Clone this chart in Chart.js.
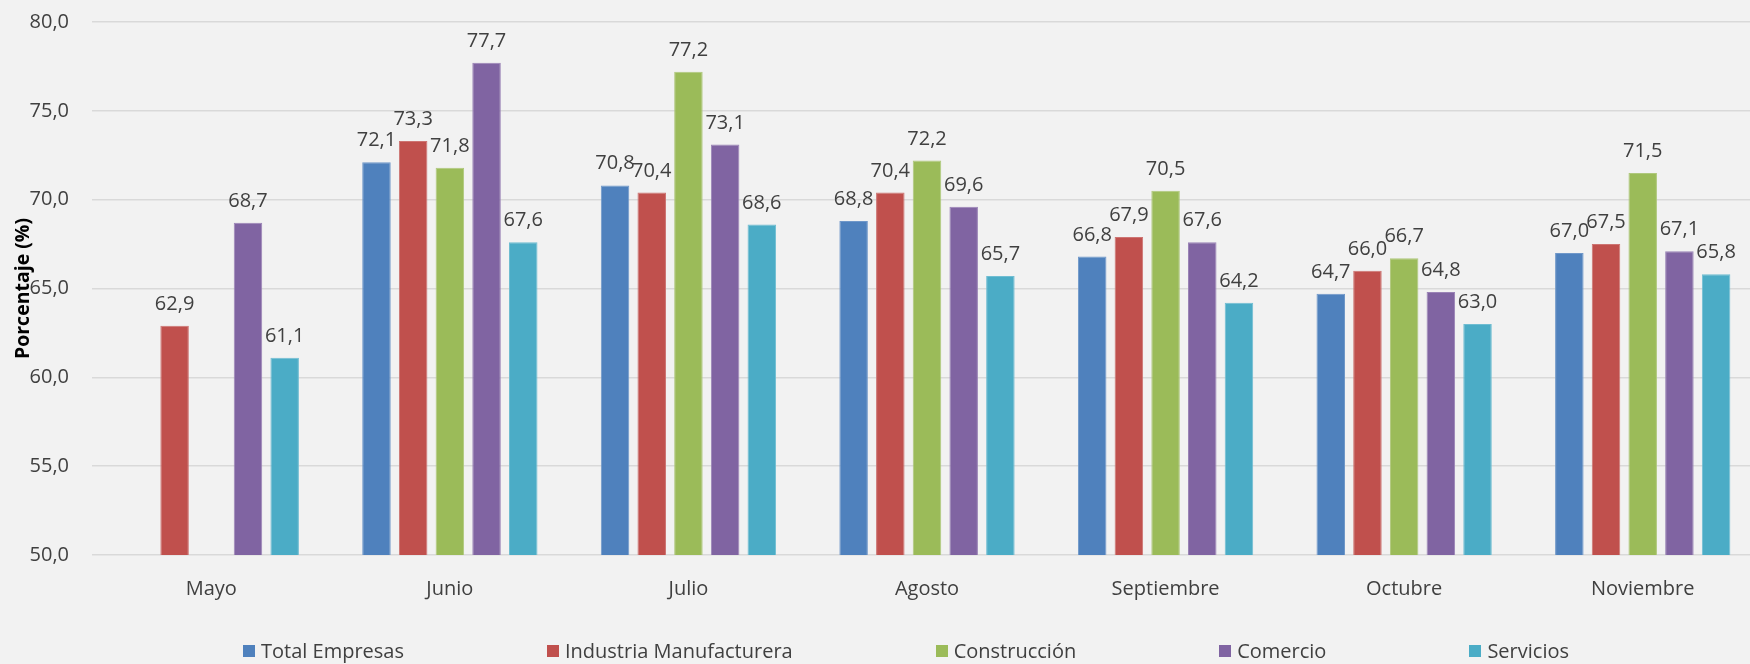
<!DOCTYPE html>
<html>
<head>
<meta charset="utf-8">
<script src="https://cdn.jsdelivr.net/npm/chart.js@4/dist/chart.umd.min.js"></script>
<style>
  html, body { margin: 0; padding: 0; background: #f2f2f2; overflow: hidden; width: 1750px; height: 664px; }
  #wrap { position: relative; width: 1812px; height: 664px; }
  #legend { position: absolute; left: 0; top: 637px; width: 1812px; display: flex; justify-content: center; gap: 143px;
            font-family: 'Open Sans', sans-serif; font-size: 20px; color: #404040; line-height: 28px; }
  .item { display: flex; align-items: center; white-space: nowrap; }
  .sw { width: 12px; height: 12px; margin-right: 6px; }
</style>
</head>
<body>
<div id="wrap">
  <canvas id="c" width="1812" height="664"></canvas>
  <div id="legend"></div>
</div>
<script>
const categories = ['Mayo', 'Junio', 'Julio', 'Agosto', 'Septiembre', 'Octubre', 'Noviembre'];
const seriesNames = ['Total Empresas', 'Industria Manufacturera', 'Construcción', 'Comercio', 'Servicios'];
const totalEmpresas = [null, 72.1, 70.8, 68.8, 66.8, 64.7, 67.0];
const industriaManufacturera = [62.9, 73.3, 70.4, 70.4, 67.9, 66.0, 67.5];
const construccion = [null, 71.8, 77.2, 72.2, 70.5, 66.7, 71.5];
const comercio = [68.7, 77.7, 73.1, 69.6, 67.6, 64.8, 67.1];
const servicios = [61.1, 67.6, 68.6, 65.7, 64.2, 63.0, 65.8];
const colors = ['#4f81bd', '#c0504d', '#9bbb59', '#8064a2', '#4bacc6'];
const borders = ['#6f97c9', '#cd7472', '#afc87c', '#9a83b6', '#6fbdd2'];
const yTicks = { min: 50, max: 80, step: 5 };

const seriesValues = [totalEmpresas, industriaManufacturera, construccion, comercio, servicios];
const fmt = v => v.toFixed(1).replace('.', ',');
const TEXT = '#404040';
const FONT = "'Open Sans', sans-serif";

const valueLabels = {
  id: 'valueLabels',
  afterDatasetsDraw(chart) {
    const ctx = chart.ctx;
    ctx.save();
    ctx.font = '20px ' + FONT;
    ctx.fillStyle = TEXT;
    ctx.textAlign = 'center';
    ctx.textBaseline = 'alphabetic';
    chart.data.datasets.forEach((ds, i) => {
      const meta = chart.getDatasetMeta(i);
      meta.data.forEach((bar, j) => {
        const v = ds.data[j];
        if (v == null) return;
        ctx.fillText(fmt(v), bar.x, bar.y - 16);
      });
    });
    ctx.restore();
  }
};

new Chart(document.getElementById('c'), {
  type: 'bar',
  data: {
    labels: categories,
    datasets: seriesNames.map((n, i) => ({
      label: n,
      data: seriesValues[i],
      backgroundColor: colors[i],
      borderColor: borders[i],
      borderWidth: 1,
      categoryPercentage: 0.769,
      barPercentage: 0.777,
      skipNull: false
    }))
  },
  options: {
    responsive: false,
    devicePixelRatio: 1,
    animation: false,
    layout: { padding: { top: 22, left: 0, right: 0, bottom: 0 } },
    plugins: { legend: { display: false }, tooltip: { enabled: false } },
    scales: {
      x: {
        grid: { display: false, drawTicks: false },
        border: { display: false },
        ticks: { color: TEXT, font: { family: FONT, size: 20 }, padding: 22, maxRotation: 0 },
        afterFit(s) { s.height = 109; }
      },
      y: {
        min: yTicks.min, max: yTicks.max,
        ticks: { stepSize: yTicks.step, color: TEXT, font: { family: FONT, size: 20 }, padding: 23,
                 callback: v => fmt(v) },
        grid: { color: '#d9d9d9', lineWidth: 1.5, drawTicks: false },
        border: { display: false },
        title: { display: true, text: 'Porcentaje (%)', color: '#000', font: { family: FONT, size: 19.5, weight: 'bold' },
                 padding: { top: 12, bottom: 0 } },
        afterFit(s) { s.width = 92; s.paddingTop = 0; s.paddingBottom = 0; }
      },
      yR: {
        type: 'linear', position: 'right', display: true,
        grid: { display: false, drawTicks: false }, border: { display: false },
        ticks: { display: false },
        afterFit(s) { s.width = 50; s.paddingTop = 0; s.paddingBottom = 0; }
      }
    }
  },
  plugins: [valueLabels]
});

const lg = document.getElementById('legend');
seriesNames.forEach((n, i) => {
  const it = document.createElement('div');
  it.className = 'item';
  const sw = document.createElement('span');
  sw.className = 'sw';
  sw.style.background = colors[i];
  const tx = document.createElement('span');
  tx.textContent = n;
  it.appendChild(sw); it.appendChild(tx);
  lg.appendChild(it);
});
</script>
</body>
</html>
